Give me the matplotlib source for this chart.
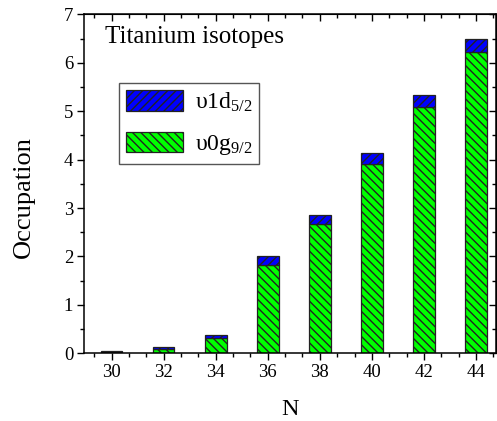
import numpy as np
import matplotlib
matplotlib.use('Agg')
import matplotlib.pyplot as plt
from matplotlib.patches import Rectangle
from matplotlib.ticker import MultipleLocator, AutoMinorLocator

plt.rcParams['font.family'] = 'Liberation Serif'
plt.rcParams['mathtext.fontset'] = 'custom'
plt.rcParams['mathtext.rm'] = 'Liberation Serif'
plt.rcParams['mathtext.it'] = 'Liberation Serif:italic'
plt.rcParams['hatch.linewidth'] = 1.0

# --- data ---
N = [30, 32, 34, 36, 38, 40, 42, 44]
occ_g92 = [0.03, 0.08, 0.31, 1.82, 2.67, 3.90, 5.08, 6.215]
occ_d52 = [0.02, 0.04, 0.06, 0.195, 0.18, 0.23, 0.25, 0.275]

label_d52 = 'υ1d$_{5/2}$'
label_g92 = 'υ0g$_{9/2}$'
blue = '#0000FF'
green = '#00FF00'
edge = '#222222'

fig = plt.figure(figsize=(4.97, 4.21), dpi=100)
ax = fig.add_axes([0.1696, 0.1608, 0.8284, 0.8052])

w = 0.83
ax.bar(N, occ_g92, width=w, color=green, edgecolor=edge, linewidth=0.9, hatch='\\\\\\\\')
ax.bar(N, occ_d52, width=w, bottom=occ_g92, color=blue, edgecolor=edge, linewidth=0.9, hatch='////')

ax.set_xlim(28.95, 44.77)
ax.set_ylim(0, 7)
ax.set_xticks(N)
ax.xaxis.set_minor_locator(AutoMinorLocator(3))
ax.yaxis.set_major_locator(MultipleLocator(1))
ax.yaxis.set_minor_locator(MultipleLocator(0.5))
ax.tick_params(which='both', direction='out', width=1.0, labelsize=13.5, pad=3)
ax.tick_params(which='major', length=5)
ax.tick_params(which='minor', length=3)
for s in ax.spines.values():
    s.set_linewidth(1.1)

# mirrored ticks pointing inward on top / right
top = ax.secondary_xaxis('top')
top.set_xticks(N)
top.xaxis.set_minor_locator(AutoMinorLocator(3))
top.tick_params(which='both', direction='in', width=1.0, labeltop=False)
top.tick_params(which='major', length=5)
top.tick_params(which='minor', length=3)
right = ax.secondary_yaxis('right')
right.yaxis.set_major_locator(MultipleLocator(1))
right.yaxis.set_minor_locator(MultipleLocator(0.5))
right.tick_params(which='both', direction='in', width=1.0, labelright=False)
right.tick_params(which='major', length=5)
right.tick_params(which='minor', length=3)

ax.set_xlabel('N', fontsize=17.5)
ax.set_ylabel('Occupation', fontsize=19)
ax.xaxis.set_label_coords(0.5, -0.135)
ax.yaxis.set_label_coords(-0.12, 0.461)

ax.text(0.05, 0.9145, 'Titanium isotopes', fontsize=18, transform=ax.transAxes,
        ha='left', va='baseline')

handles = [Rectangle((0, 0), 1, 1, facecolor=blue, edgecolor=edge, linewidth=0.9, hatch='////'),
           Rectangle((0, 0), 1, 1, facecolor=green, edgecolor=edge, linewidth=0.9, hatch='\\\\\\\\')]
leg = ax.legend(handles, [label_d52, label_g92], loc='upper left',
                bbox_to_anchor=(0.0843, 0.7965), borderaxespad=0, fontsize=17,
                handlelength=2.4, handleheight=0.95, labelspacing=0.75,
                fancybox=False, framealpha=1, edgecolor='#555555',
                borderpad=0.3, handletextpad=0.5)
leg.get_frame().set_linewidth(1.0)

fig.savefig('out.png', dpi=100)
